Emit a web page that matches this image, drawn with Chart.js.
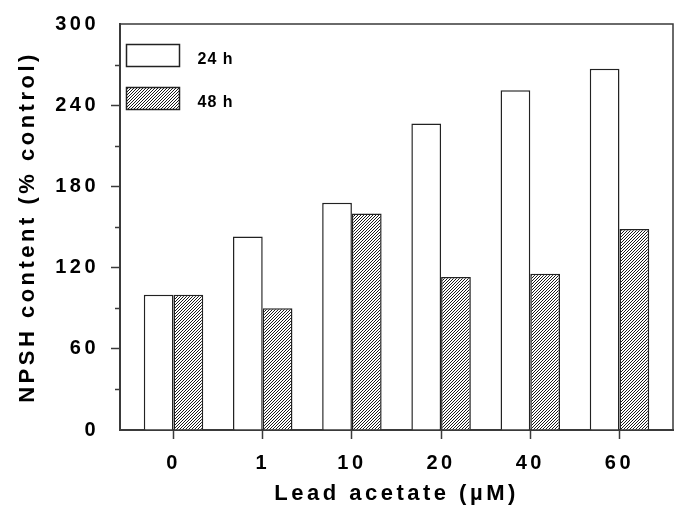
<!DOCTYPE html>
<html>
<head>
<meta charset="utf-8">
<script src="https://cdn.jsdelivr.net/npm/chart.js@4/dist/chart.umd.min.js"></script>
<style>
  html, body { margin: 0; padding: 0; background: #fff; }
  #wrap { width: 675px; height: 525px; }
</style>
</head>
<body>
<div id="wrap"><canvas id="npshChart" width="675" height="525"></canvas></div>
<script>
const CONCENTRATIONS = ['0', '1', '10', '20', '40', '60'];
const NPSH_24H = [100, 143, 168, 226.5, 251, 267];
const NPSH_48H = [100, 90, 160, 113, 115.5, 148.5];
const SERIES_NAMES = ['24 h', '48 h'];
const Y_MAJOR = [0, 60, 120, 180, 240, 300];
const Y_MINOR = [30, 90, 150, 210, 270];

const FONT_FAMILY = "'Liberation Sans', Arial, Helvetica, sans-serif";
const LINE = '#3a3a3a';

const canvas = document.getElementById('npshChart');
const ctx = canvas.getContext('2d');

// dense "////" hatch for the 48 h bars
function makeHatch() {
  const n = 3;
  const tile = document.createElement('canvas');
  tile.width = n; tile.height = n;
  const g = tile.getContext('2d');
  g.fillStyle = '#fff';
  g.fillRect(0, 0, n, n);
  g.strokeStyle = '#000';
  g.lineWidth = 0.9;
  g.beginPath();
  g.moveTo(0, n); g.lineTo(n, 0);
  g.moveTo(-1, 1); g.lineTo(1, -1);
  g.moveTo(n - 1, n + 1); g.lineTo(n + 1, n - 1);
  g.stroke();
  return ctx.createPattern(tile, 'repeat');
}
const hatch = makeHatch();

const spacing = {
  id: 'spacing',
  beforeDraw(chart) { chart.ctx.letterSpacing = '3.5px'; },
  afterDraw(chart) { chart.ctx.letterSpacing = '0px'; }
};

// box frame, minor ticks and the legend inside the plot
const frame = {
  id: 'frame',
  afterDatasetsDraw(chart) {
    const {ctx, chartArea: a, scales: {y}} = chart;
    ctx.save();
    ctx.strokeStyle = LINE;
    ctx.lineWidth = 1.5;
    ctx.beginPath();
    ctx.moveTo(a.left, a.top); ctx.lineTo(a.right, a.top); ctx.lineTo(a.right, a.bottom);
    Y_MINOR.forEach(v => {
      const py = Math.round(y.getPixelForValue(v)) + 0.5;
      ctx.moveTo(a.left - 5, py); ctx.lineTo(a.left, py);
    });
    ctx.stroke();

    ctx.letterSpacing = '1px';
    ctx.font = 'bold 16px ' + FONT_FAMILY;
    ctx.textBaseline = 'middle';
    chart.data.datasets.forEach((ds, i) => {
      const x = a.left + 6.5, top = a.top + 20.5 + i * 43;
      ctx.fillStyle = ds.backgroundColor;
      ctx.fillRect(x, top, 53, 22);
      ctx.strokeStyle = '#222';
      ctx.lineWidth = 1.5;
      ctx.strokeRect(x, top, 53, 22);
      ctx.fillStyle = '#000';
      ctx.fillText(ds.label, x + 71, top + 15);
    });
    ctx.restore();
  }
};

new Chart(ctx, {
  type: 'bar',
  data: {
    datasets: [{
      label: SERIES_NAMES[0],
      data: NPSH_24H.map((v, i) => ({x: i, y: v})),
      backgroundColor: '#ffffff',
      borderColor: '#222',
      borderWidth: 1.5
    }, {
      label: SERIES_NAMES[1],
      data: NPSH_48H.map((v, i) => ({x: i, y: v})),
      backgroundColor: hatch,
      borderColor: '#222',
      borderWidth: 1.5
    }]
  },
  options: {
    responsive: false,
    animation: false,
    devicePixelRatio: 1,
    layout: { padding: { top: 15, right: 2, left: 0, bottom: 0 } },
    datasets: { bar: { categoryPercentage: 2 / 3, barPercentage: 1 } },
    plugins: { legend: { display: false }, tooltip: { enabled: false } },
    scales: {
      x: {
        type: 'linear',
        min: -0.6,
        max: 5.6,
        offset: false,
        afterBuildTicks: s => { s.ticks = CONCENTRATIONS.map((c, i) => ({value: i})); },
        afterFit: s => { s.height = 95; },
        ticks: {
          autoSkip: false,
          maxRotation: 0,
          padding: 12,
          color: '#000',
          font: { family: FONT_FAMILY, size: 20, weight: 'bold' },
          callback: v => CONCENTRATIONS[v]
        },
        grid: { offset: false, drawOnChartArea: false, tickLength: 9, tickWidth: 1.5, tickColor: LINE },
        border: { color: LINE, width: 2 },
        title: {
          display: true,
          text: 'Lead acetate (µM)',
          color: '#000',
          font: { family: FONT_FAMILY, size: 22, weight: 'bold' },
          padding: { top: 0, bottom: 18 }
        }
      },
      y: {
        min: 0,
        max: 300,
        afterBuildTicks: s => { s.ticks = Y_MAJOR.map(v => ({value: v})); },
        afterFit: s => { s.width = 120; },
        ticks: {
          padding: 12,
          color: '#000',
          font: { family: FONT_FAMILY, size: 20, weight: 'bold' }
        },
        grid: {
          drawOnChartArea: false,
          tickLength: 9,
          tickWidth: 1.5,
          tickColor: c => (c.tick && (c.tick.value === 0 || c.tick.value === 300)) ? 'rgba(0,0,0,0)' : LINE
        },
        border: { color: LINE, width: 2 },
        title: {
          display: true,
          text: 'NPSH content (% control)',
          color: '#000',
          font: { family: FONT_FAMILY, size: 22, weight: 'bold' },
          padding: { top: 15, bottom: 0 }
        }
      }
    }
  },
  plugins: [spacing, frame]
});
</script>
</body>
</html>
